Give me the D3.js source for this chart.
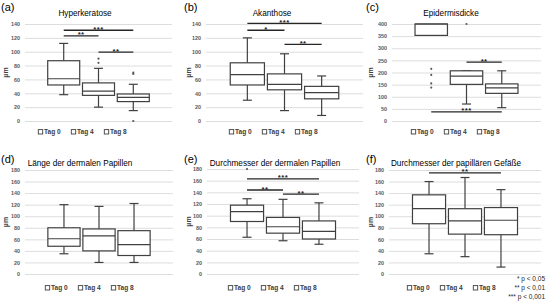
<!DOCTYPE html>
<html>
<head>
<meta charset="utf-8">
<script src="https://cdn.jsdelivr.net/npm/d3@7"></script>
<style>
  body { margin: 0; background: #fff; }
  svg { display: block; font-family: "Liberation Sans", Arial, sans-serif; }
</style>
</head>
<body>
<svg id="chart" width="546" height="304"></svg>
<script>
const categories = ["Tag 0", "Tag 4", "Tag 8"];

// box stats per group: [lower whisker, q1, median, q3, upper whisker]
const hyperkeratose = [[38, 52, 61, 87, 112], [20, 37, 43, 55, 76], [15, 28, 34, 39, 53]];
const hyperkeratoseOutliers = [[], [90, 84], [70, 68, 0]];
const hyperkeratoseSig = [["Tag 0", "Tag 8", 131, "***"], ["Tag 0", "Tag 4", 123, "**"], ["Tag 4", "Tag 8", 99.5, "**"]];

const akanthose = [[30, 52, 67, 84, 120], [15, 45, 53, 68, 97], [8, 32, 41, 50, 65]];
const akanthoseOutliers = [[], [], []];
const akanthoseSig = [["Tag 0", "Tag 8", 141, "***"], ["Tag 0", "Tag 4", 131, "*"], ["Tag 4", "Tag 8", 110.5, "**"]];

// Tag 0 box runs past the 400 axis limit
const epidermis = [[353, 353, 420, 440, 480], [70, 151, 185, 207, 207], [55, 114, 137, 153, 207]];
const epidermisOutliers = [[215, 190, 155, 138], [400], []];
const epidermisSig = [["Tag 4", "Tag 8", 243, "**"], ["Tag 0", "Tag 8", 38, "***"]];

const papLaenge = [[35, 48, 61, 80, 120], [20, 40, 66, 78, 117], [20, 32, 51, 75, 122]];
const papLaengeOutliers = [[], [], []];
const papLaengeSig = [];

const papDurchmesser = [[63, 90, 107, 118, 129], [57, 70, 81, 97, 128], [51, 60, 73, 91, 122]];
const papDurchmesserOutliers = [[180], [], []];
const papDurchmesserSig = [["Tag 0", "Tag 8", 163, "***"], ["Tag 0", "Tag 4", 144, "**"], ["Tag 4", "Tag 8", 137, "**"]];

const gefaesse = [[35, 87, 113, 137, 160], [30, 69, 92, 113, 167], [12, 68, 93, 115, 146]];
const gefaesseOutliers = [[], [], []];
const gefaesseSig = [["Tag 0", "Tag 8", 175, "**"]];

const footnotes = ["* p < 0,05", "** p < 0,01", "*** p < 0,001"];

const panels = [
  { tag: "(a)", title: "Hyperkeratose", stats: hyperkeratose, outliers: hyperkeratoseOutliers, sig: hyperkeratoseSig,
    ymax: 140, ystep: 20, left: 0, x0: 25, x1: 172, top: 24, bottom: 121, titleX: 85, legendX: 85, legendY: 132, row: 0 },
  { tag: "(b)", title: "Akanthose", stats: akanthose, outliers: akanthoseOutliers, sig: akanthoseSig,
    ymax: 140, ystep: 20, left: 183, x0: 206, x1: 363, top: 24, bottom: 121, titleX: 272, legendX: 276, legendY: 132, row: 0 },
  { tag: "(c)", title: "Epidermisdicke", stats: epidermis, outliers: epidermisOutliers, sig: epidermisSig,
    ymax: 400, ystep: 50, left: 365, x0: 392, x1: 541, top: 24, bottom: 121, titleX: 451, legendX: 458, legendY: 132, row: 0 },
  { tag: "(d)", title: "Länge der dermalen Papillen", stats: papLaenge, outliers: papLaengeOutliers, sig: papLaengeSig,
    ymax: 180, ystep: 20, left: 0, x0: 25, x1: 173, top: 170, bottom: 274, titleX: 80, legendX: 92, legendY: 288, row: 1 },
  { tag: "(e)", title: "Durchmesser der dermalen Papillen", stats: papDurchmesser, outliers: papDurchmesserOutliers, sig: papDurchmesserSig,
    ymax: 180, ystep: 20, left: 183, x0: 207, x1: 359, top: 169, bottom: 274, titleX: 275, legendX: 275, legendY: 288, row: 1 },
  { tag: "(f)", title: "Durchmesser der papillären Gefäße", stats: gefaesse, outliers: gefaesseOutliers, sig: gefaesseSig,
    ymax: 180, ystep: 20, left: 365, x0: 389, x1: 541, top: 170, bottom: 274, titleX: 456, legendX: 454, legendY: 288, row: 1 }
];

const svg = d3.select("#chart");
const ink = "#404040";

panels.forEach(p => drawPanel(p));

function drawPanel(p) {
  const g = svg.append("g");
  const cx = (p.x0 + p.x1) / 2;
  const half = (p.x1 - p.x0) * 0.355;

  const x = d3.scaleBand()
    .domain(categories)
    .range([cx - half, cx + half])
    .paddingInner(0.08)
    .paddingOuter(0.04);

  const y = d3.scaleLinear()
    .domain([0, p.ymax])
    .range([p.bottom, p.top]);
  const yc = y.copy().clamp(true);

  // gridlines + tick labels
  const yAxis = d3.axisLeft(y)
    .tickValues(d3.range(0, p.ymax + 1, p.ystep))
    .tickSize(-(p.x1 - p.x0))
    .tickPadding(5);
  const ax = g.append("g")
    .attr("transform", `translate(${p.x0},0)`)
    .call(yAxis);
  ax.select(".domain").remove();
  ax.selectAll(".tick line").attr("stroke", "#d9d9d9").attr("stroke-width", 0.9);
  ax.selectAll(".tick text")
    .attr("fill", "#595959")
    .attr("font-size", 5.4)
    .attr("font-weight", "bold");

  // boxes
  const cap = 9;
  p.stats.forEach((s, i) => {
    const c = categories[i];
    const bx = x(c), bw = x.bandwidth(), mx = bx + bw / 2;
    const [lo, q1, med, q3, hi] = s.map(v => yc(v));
    const bg = g.append("g").attr("stroke", ink).attr("stroke-width", 1.2).attr("fill", "none");
    bg.append("line").attr("x1", mx).attr("x2", mx).attr("y1", q3).attr("y2", hi);
    bg.append("line").attr("x1", mx).attr("x2", mx).attr("y1", q1).attr("y2", lo);
    if (s[4] <= p.ymax) bg.append("line").attr("x1", mx - cap / 2).attr("x2", mx + cap / 2).attr("y1", hi).attr("y2", hi);
    if (s[0] < s[1]) bg.append("line").attr("x1", mx - cap / 2).attr("x2", mx + cap / 2).attr("y1", lo).attr("y2", lo);
    bg.append("rect").attr("x", bx).attr("y", q3).attr("width", bw).attr("height", q1 - q3).attr("fill", "#fff");
    bg.append("line").attr("x1", bx).attr("x2", bx + bw).attr("y1", med).attr("y2", med);

    g.selectAll(null)
      .data(p.outliers[i])
      .join("circle")
      .attr("cx", mx)
      .attr("cy", d => y(d))
      .attr("r", 1.1)
      .attr("fill", "#595959");
  });

  // significance bars
  p.sig.forEach(([a, b, v, label]) => {
    const xa = x(a) + x.bandwidth() / 2, xb = x(b) + x.bandwidth() / 2;
    g.append("line")
      .attr("x1", xa).attr("x2", xb)
      .attr("y1", y(v)).attr("y2", y(v))
      .attr("stroke", "#262626").attr("stroke-width", 1.3);
    g.append("text")
      .attr("x", (xa + xb) / 2)
      .attr("y", y(v) + 1.5)
      .attr("text-anchor", "middle")
      .attr("font-size", 7.8)
      .attr("font-weight", "bold")
      .attr("letter-spacing", 0.4)
      .attr("fill", "#262626")
      .text(label);
  });

  // panel tag, title, unit
  g.append("text")
    .attr("x", p.left + 1)
    .attr("y", p.row ? 163 : 10.5)
    .attr("font-size", 11)
    .attr("fill", "#000")
    .text(p.tag);
  g.append("text")
    .attr("x", p.titleX)
    .attr("y", p.row ? 165.5 : 16)
    .attr("text-anchor", "middle")
    .attr("font-size", 8.2)
    .attr("fill", "#000")
    .text(p.title);
  g.append("text")
    .attr("transform", `translate(${p.left + 7.5},${(p.top + p.bottom) / 2}) rotate(-90)`)
    .attr("text-anchor", "middle")
    .attr("font-size", 7)
    .attr("font-weight", "bold")
    .attr("fill", "#404040")
    .text("µm");

  // legend
  const itemW = 33;
  const lg = g.append("g")
    .attr("transform", `translate(${p.legendX - itemW * 1.5 + 5},${p.legendY})`);
  categories.forEach((c, i) => {
    const it = lg.append("g").attr("transform", `translate(${i * itemW},0)`);
    it.append("rect")
      .attr("x", -2.2).attr("y", -2.4)
      .attr("width", 4.4).attr("height", 4.4)
      .attr("fill", "#fff").attr("stroke", ink).attr("stroke-width", 0.9);
    it.append("text")
      .attr("x", 3.5).attr("y", 2.4)
      .attr("font-size", 6.6)
      .attr("font-weight", "bold")
      .attr("fill", "#404040")
      .text(c);
  });
}

// footnote
svg.append("g")
  .selectAll("text")
  .data(footnotes)
  .join("text")
  .attr("x", 545)
  .attr("y", (d, i) => 281 + i * 9)
  .attr("text-anchor", "end")
  .attr("font-size", 6.5)
  .attr("fill", "#262626")
  .text(d => d);
</script>
</body>
</html>
